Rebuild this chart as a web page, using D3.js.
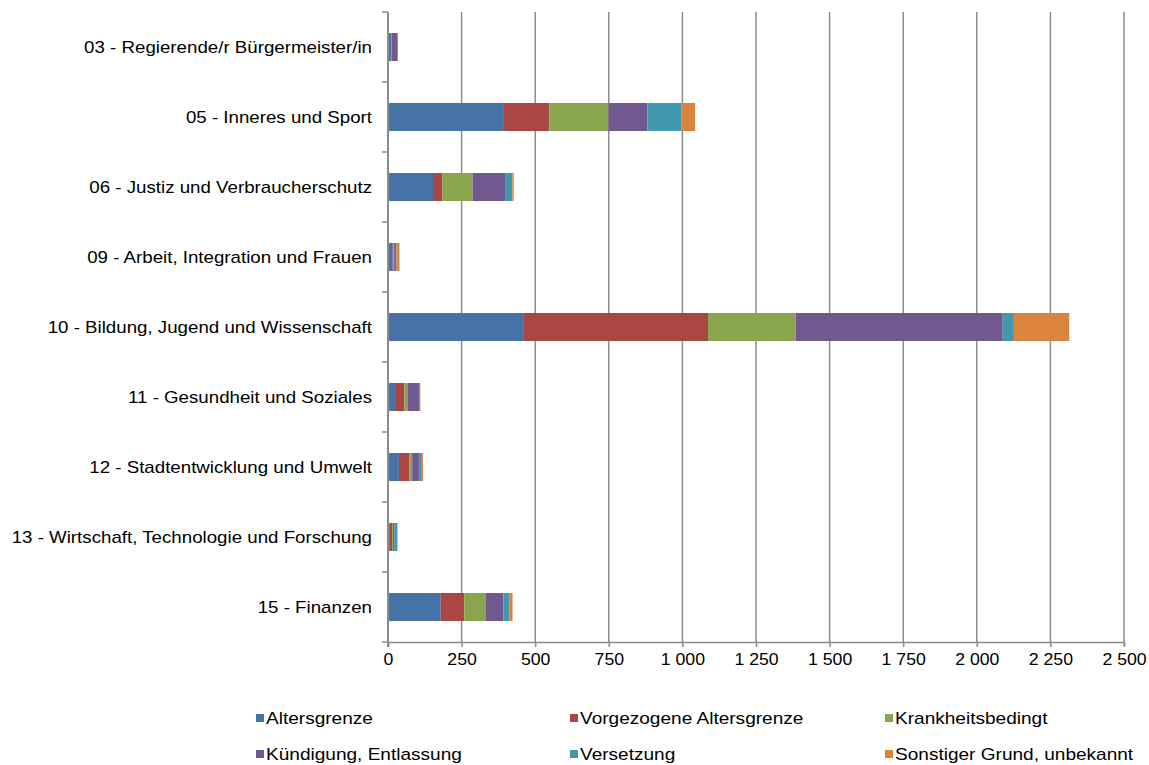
<!DOCTYPE html>
<html><head><meta charset="utf-8">
<script src="https://cdn.jsdelivr.net/npm/d3@7"></script>
<style>body{margin:0;background:#fff;font-family:"Liberation Sans",Arial,sans-serif;}</style>
</head><body>
<svg id="chart" width="1149" height="765"></svg>
<script>
const categories = [
  "03 - Regierende/r Bürgermeister/in",
  "05 - Inneres und Sport",
  "06 - Justiz und Verbraucherschutz",
  "09 - Arbeit, Integration und Frauen",
  "10 - Bildung, Jugend und Wissenschaft",
  "11 - Gesundheit und Soziales",
  "12 - Stadtentwicklung und Umwelt",
  "13 - Wirtschaft, Technologie und Forschung",
  "15 - Finanzen"
];
const seriesNames = ["Altersgrenze","Vorgezogene Altersgrenze","Krankheitsbedingt","Kündigung, Entlassung","Versetzung","Sonstiger Grund, unbekannt"];
const seriesColors = ["#4572A7","#AA4643","#89A54E","#71588F","#4198AF","#DB843D"];
const altersgrenze   = [10, 391, 153, 16, 459, 27, 37, 4, 179];
const vorgezogene    = [2, 157, 32, 3, 628, 29, 36, 10, 80];
const krankheit      = [1, 201, 102, 2, 298, 10, 9, 3, 72];
const kuendigung     = [20, 132, 113, 6, 703, 40, 23, 5, 61];
const versetzung     = [0, 115, 22, 2, 38, 3, 10, 10, 21];
const sonstiger      = [0, 47, 5, 10, 188, 1, 4, 0, 10];
const xTicks = [0,250,500,750,1000,1250,1500,1750,2000,2250,2500];

const seriesValues = [altersgrenze, vorgezogene, krankheit, kuendigung, versetzung, sonstiger];
const rows = categories.map((c,i)=>{const o={cat:c}; seriesNames.forEach((s,j)=>o[s]=seriesValues[j][i]); return o;});
const stack = d3.stack().keys(seriesNames)(rows);

const svg = d3.select("#chart");
const mLeft = 388, mRight = 1124, mTop = 12, mBottom = 642;
const x = d3.scaleLinear().domain([0,2500]).range([mLeft,mRight]);
const y = d3.scaleBand().domain(categories).range([mTop,mBottom]).paddingInner(0.6).paddingOuter(0.3);
const yEdges = d3.scaleBand().domain(categories).range([mTop,mBottom]);
const grid = "#8c8c8c";
const FS = 17;
function stretch(sel, f){
  sel.each(function(){ const w=this.getComputedTextLength(); d3.select(this).attr("textLength",w*f).attr("lengthAdjust","spacingAndGlyphs"); });
}

// gridlines
svg.append("g").selectAll("line").data(xTicks.slice(1)).join("line")
  .attr("x1",d=>x(d)).attr("x2",d=>x(d)).attr("y1",mTop).attr("y2",mBottom)
  .attr("stroke",grid).attr("stroke-width",1.5);

// bars
svg.append("g").selectAll("g").data(stack).join("g")
  .attr("fill",(d,i)=>seriesColors[i])
  .selectAll("rect").data(d=>d).join("rect")
  .attr("x",d=>x(d[0])).attr("width",d=>Math.max(0,x(d[1])-x(d[0])))
  .attr("y",d=>y(d.data.cat)).attr("height",y.bandwidth());

// x axis
const xAxis = svg.append("g").attr("transform",`translate(0,${mBottom})`)
  .call(d3.axisBottom(x).tickValues(xTicks).tickSize(5).tickPadding(6)
    .tickFormat(d=>d3.format(",")(d).replace(/,/g," ")));
xAxis.select(".domain").attr("stroke",grid).attr("stroke-width",1.5);
xAxis.selectAll(".tick line").attr("stroke",grid).attr("stroke-width",1.5);
const xt = xAxis.selectAll("text").attr("font-size",FS).attr("fill","#000").attr("font-family","Liberation Sans, Arial, sans-serif");
stretch(xt, 1.04);

// y axis line
svg.append("line").attr("x1",mLeft).attr("x2",mLeft).attr("y1",mTop).attr("y2",mBottom+5)
  .attr("stroke",grid).attr("stroke-width",2);
// y ticks at band edges
const edges = categories.map(c=>yEdges(c)).concat([mBottom]);
svg.append("g").selectAll("line").data(edges).join("line")
  .attr("x1",mLeft-6).attr("x2",mLeft).attr("y1",d=>d).attr("y2",d=>d)
  .attr("stroke",grid).attr("stroke-width",1.5);
// y labels
const yl = svg.append("g").selectAll("text").data(categories).join("text")
  .attr("x",372).attr("y",d=>yEdges(d)+yEdges.bandwidth()/2).attr("dy","0.35em")
  .attr("text-anchor","end").attr("font-size",FS).attr("fill","#000").text(d=>d);
stretch(yl, 1.10);

// legend
const legX = [256,570,885], legY = [718,754];
const leg = svg.append("g").selectAll("g").data(seriesNames).join("g")
  .attr("transform",(d,i)=>`translate(${legX[i%3]},${legY[Math.floor(i/3)]})`);
leg.append("rect").attr("x",0).attr("y",-4).attr("width",8).attr("height",8).attr("fill",(d,i)=>seriesColors[i]);
const lt = leg.append("text").attr("x",10).attr("dy","0.35em").attr("font-size",FS).attr("fill","#000").text(d=>d);
stretch(lt, 1.12);
</script>
</body></html>
